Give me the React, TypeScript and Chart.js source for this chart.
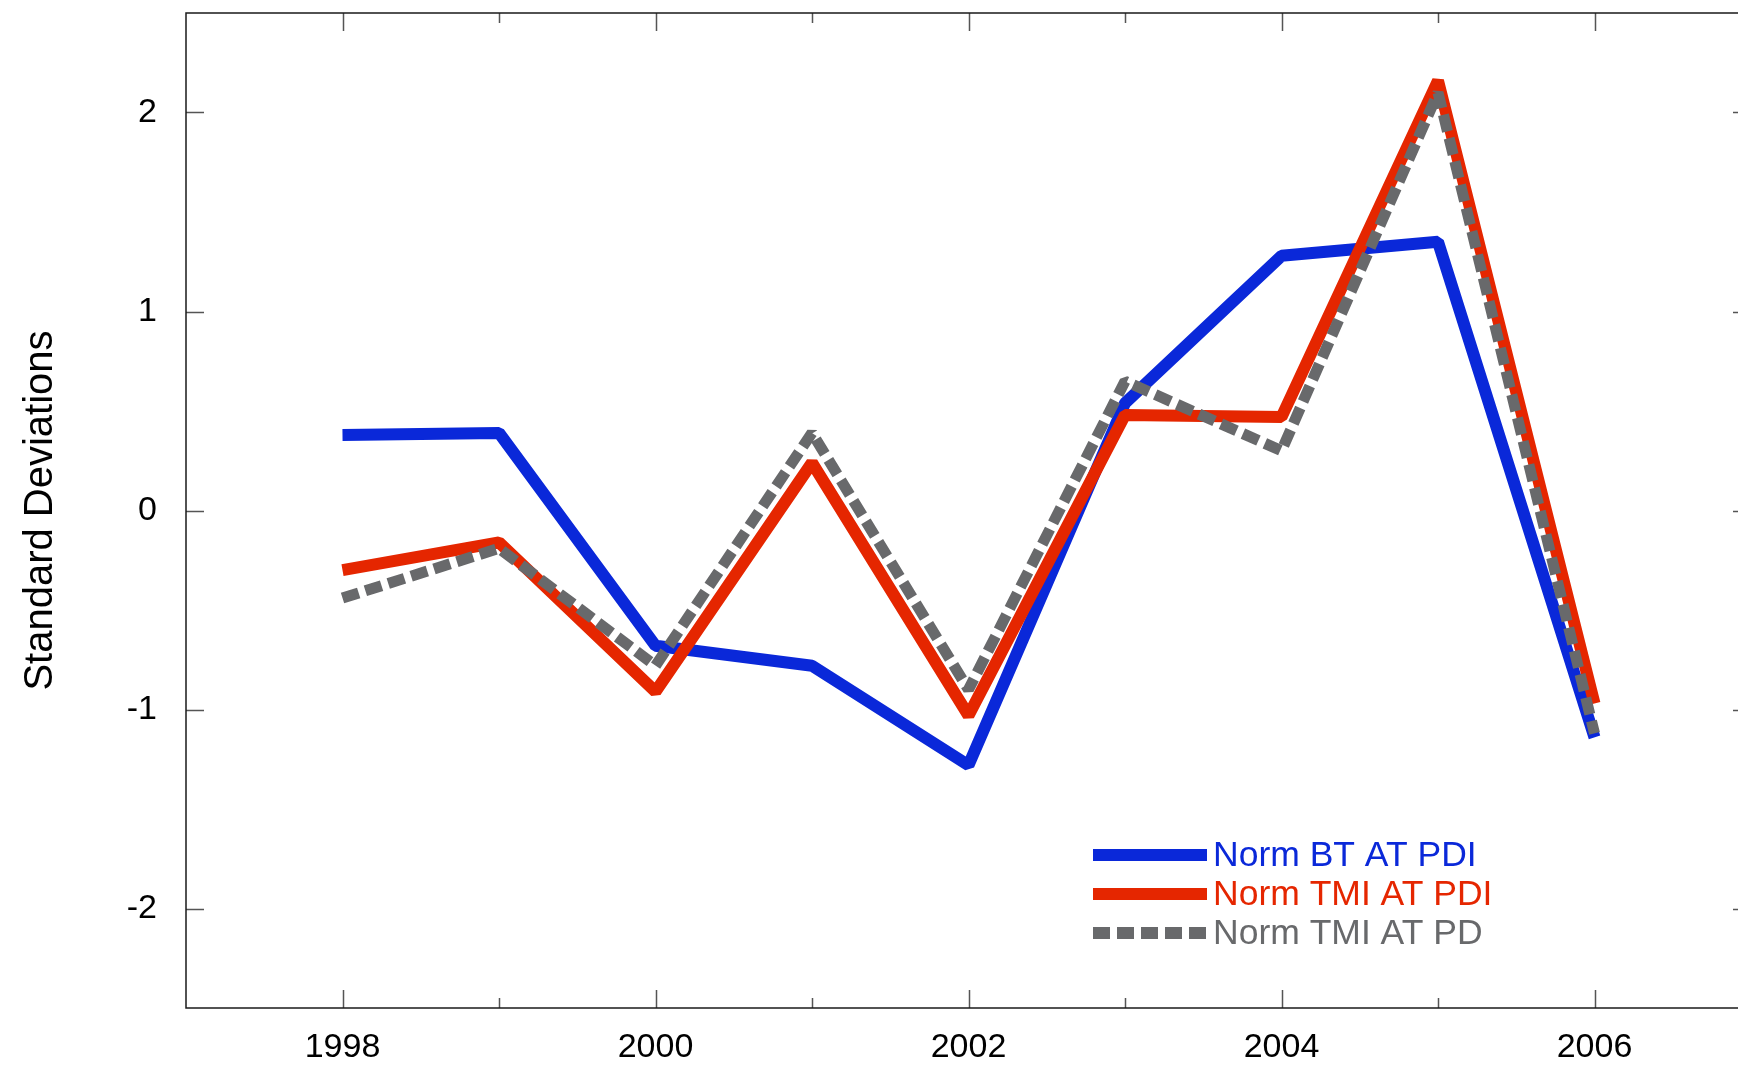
import { useEffect, useRef } from "react";
import { Chart, registerables } from "chart.js";

Chart.register(...registerables);

// Normalised Atlantic power dissipation index, in standard deviations
const years = [1998, 1999, 2000, 2001, 2002, 2003, 2004, 2005, 2006];
const btAtPdi = [0.38, 0.39, -0.68, -0.78, -1.28, 0.54, 1.28, 1.35, -1.14];
const tmiAtPdi = [-0.3, -0.16, -0.91, 0.24, -1.03, 0.48, 0.47, 2.16, -0.97];
const tmiAtPd = [-0.44, -0.19, -0.78, 0.39, -0.9, 0.65, 0.3, 2.1, -1.12];

const seriesLabels = ["Norm BT AT PDI", "Norm TMI AT PDI", "Norm TMI AT PD"];
const seriesColors = ["#0a28d9", "#e52600", "#68696b"];
const yAxisTitle = "Standard Deviations";

// Axis extents and tick positions
const xRange = [1997, 2007];
const yRange = [-2.5, 2.5];
const xTickValues = [1998, 1999, 2000, 2001, 2002, 2003, 2004, 2005, 2006];
const yTickValues = [-2, -1, 0, 1, 2];

const FONT = '"Liberation Sans", Arial, Helvetica, sans-serif';

const toPoints = (vals: number[]) => years.map((x, i) => ({ x, y: vals[i] }));

// Box frame with inward tick marks on all four sides
const frameTicks = {
  id: "frameTicks",
  beforeDatasetsDraw(chart: any) {
    const { ctx, chartArea, scales } = chart;
    const { left, right, top, bottom } = chartArea;
    const xs = scales.x;
    const ys = scales.y;
    ctx.save();
    ctx.strokeStyle = "#555";
    ctx.lineWidth = 1.5;
    ctx.beginPath();
    xs.ticks.forEach((t: any) => {
      const px = Math.round(xs.getPixelForValue(t.value)) + 0.5;
      const len = t.value % 2 === 0 ? 18 : 10;
      ctx.moveTo(px, bottom);
      ctx.lineTo(px, bottom - len);
      ctx.moveTo(px, top);
      ctx.lineTo(px, top + len);
    });
    ys.ticks.forEach((t: any) => {
      const py = Math.round(ys.getPixelForValue(t.value)) + 0.5;
      ctx.moveTo(left, py);
      ctx.lineTo(left + 18, py);
      ctx.moveTo(right, py);
      ctx.lineTo(right - 18, py);
    });
    ctx.stroke();
    ctx.strokeStyle = "#1a1a1a";
    ctx.lineWidth = 1.5;
    ctx.strokeRect(left, top, right - left, bottom - top);
    ctx.restore();
  },
};

// Legend drawn inside the plot, lower middle
const insetLegend = {
  id: "insetLegend",
  afterDatasetsDraw(chart: any) {
    const { ctx, chartArea } = chart;
    const x0 = chartArea.left + 907;
    const y0 = chartArea.top + 842;
    const lineLen = 114;
    const rowH = 39;
    chart.data.datasets.forEach((ds: any, i: number) => {
      const y = y0 + i * rowH;
      ctx.save();
      ctx.strokeStyle = ds.borderColor;
      ctx.lineWidth = 12;
      ctx.lineCap = "butt";
      ctx.setLineDash(ds.borderDash || []);
      ctx.beginPath();
      ctx.moveTo(x0, y);
      ctx.lineTo(x0 + lineLen, y);
      ctx.stroke();
      ctx.setLineDash([]);
      ctx.fillStyle = ds.borderColor;
      ctx.font = `35.5px ${FONT}`;
      ctx.textAlign = "left";
      ctx.textBaseline = "middle";
      ctx.fillText(ds.label, x0 + lineLen + 6, y + 1);
      ctx.restore();
    });
  },
};

export default function App() {
  const canvasRef = useRef<HTMLCanvasElement | null>(null);

  useEffect(() => {
    const canvas = canvasRef.current;
    if (!canvas) return;
    const chart = new Chart(canvas, {
      type: "line",
      data: {
        datasets: [
          {
            label: seriesLabels[0],
            data: toPoints(btAtPdi),
            borderColor: seriesColors[0],
            borderWidth: 12,
            order: 3,
          },
          {
            label: seriesLabels[1],
            data: toPoints(tmiAtPdi),
            borderColor: seriesColors[1],
            borderWidth: 12,
            order: 2,
          },
          {
            label: seriesLabels[2],
            data: toPoints(tmiAtPd),
            borderColor: seriesColors[2],
            borderWidth: 11,
            borderDash: [17, 7],
            order: 1,
          },
        ],
      },
      options: {
        animation: false,
        responsive: false,
        layout: { padding: { top: 13, right: 19, left: 0, bottom: 0 } },
        elements: {
          point: { radius: 0, hoverRadius: 0 },
          line: { tension: 0, borderJoinStyle: "bevel", borderCapStyle: "butt", fill: false },
        },
        plugins: {
          legend: { display: false },
          tooltip: { enabled: false },
        },
        scales: {
          x: {
            type: "linear",
            min: xRange[0],
            max: xRange[1],
            grid: { display: false, drawTicks: false },
            border: { display: false },
            afterBuildTicks: (s: any) => {
              s.ticks = xTickValues.map((value) => ({ value }));
            },
            ticks: {
              autoSkip: false,
              maxRotation: 0,
              padding: 19,
              color: "#000",
              font: { family: FONT, size: 34 },
              callback: (v: any) => (Number(v) % 2 === 0 ? String(v) : ""),
            },
            afterFit: (s: any) => {
              s.height = 62;
              s.paddingLeft = 0;
              s.paddingRight = 0;
            },
          },
          y: {
            type: "linear",
            min: yRange[0],
            max: yRange[1],
            grid: { display: false, drawTicks: false },
            border: { display: false },
            afterBuildTicks: (s: any) => {
              s.ticks = yTickValues.map((value) => ({ value }));
            },
            ticks: {
              padding: 29,
              color: "#000",
              font: { family: FONT, size: 34 },
              callback: (v: any) => String(v),
            },
            title: {
              display: true,
              text: yAxisTitle,
              color: "#000",
              font: { family: FONT, size: 40 },
              padding: { top: 17, bottom: 0 },
            },
            afterFit: (s: any) => {
              s.width = 186;
              s.paddingTop = 0;
              s.paddingBottom = 0;
            },
          },
        },
      },
      plugins: [frameTicks, insetLegend],
    });
    return () => chart.destroy();
  }, []);

  return (
    <div
      style={{
        position: "absolute",
        left: 0,
        top: 0,
        width: 1738,
        height: 1070,
        overflow: "hidden",
        background: "#fff",
      }}
    >
      <canvas ref={canvasRef} width={1770} height={1070} style={{ display: "block", width: 1770, height: 1070 }} />
    </div>
  );
}
